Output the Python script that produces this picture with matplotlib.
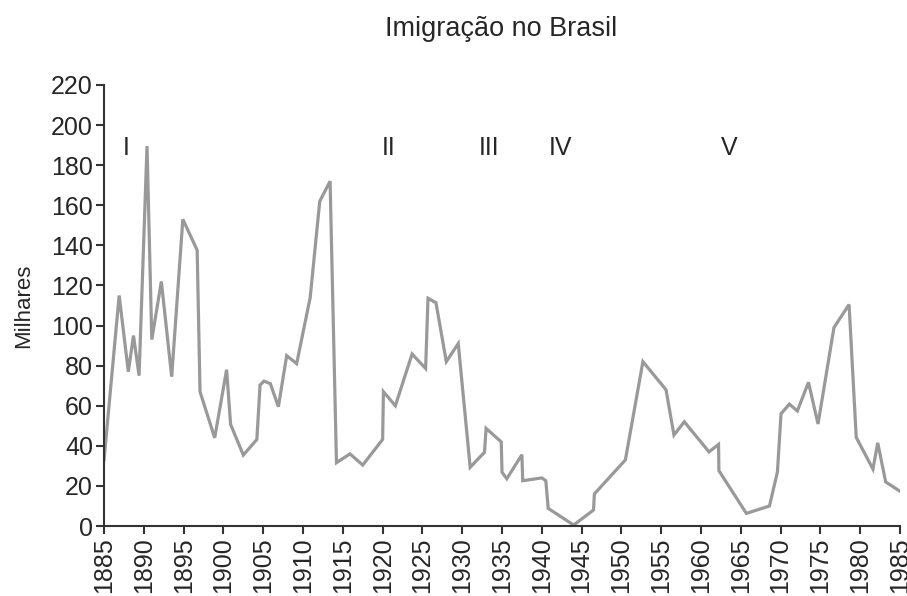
"""
Imigração no Brasil — série de 1885 a 1985 (milhares)
"""

import matplotlib
matplotlib.use('Agg')
import matplotlib.pyplot as plt

# ─────────────────────────────────────────────
# Dados
# ─────────────────────────────────────────────

anos = [1885.0, 1886.9, 1888.05, 1888.7, 1889.4, 1890.4, 1891.0, 1892.2, 1893.5,
        1894.9, 1896.7, 1897.06, 1898.9, 1900.4, 1900.9, 1902.5, 1904.2, 1904.6,
        1905.1, 1905.9, 1906.9, 1907.95, 1909.2, 1910.9, 1912.1, 1913.4, 1914.2,
        1915.9, 1917.5, 1920.0, 1920.1, 1921.6, 1923.7, 1925.4, 1925.7, 1926.7,
        1928.0, 1929.5, 1931.0, 1932.8, 1933.0, 1934.9, 1935.0, 1935.6, 1937.5,
        1937.6, 1940.0, 1940.5, 1940.8, 1944.0, 1946.5, 1946.6, 1950.5, 1952.7,
        1955.6, 1956.6, 1957.9, 1961.0, 1962.2, 1962.25, 1965.7, 1968.6, 1969.6,
        1970.05, 1971.1, 1972.1, 1973.5, 1974.7, 1976.7, 1978.6, 1979.5, 1981.6,
        1982.2, 1983.2, 1984.9]

milhares = [33, 115, 77, 95, 75, 189.5, 93, 122, 74.5,
            153, 137.6, 67, 44, 78, 50.7, 35.4, 43.2, 70.3,
            72.3, 71, 59.5, 85, 81, 114, 162, 172, 31.6,
            36, 30.4, 43.2, 67, 60, 85.8, 78.6, 113.6, 111.4,
            82, 91, 29.3, 36.8, 48.7, 42, 26.8, 23.6, 35.6,
            22.6, 24, 22.6, 8.8, 0.5, 8, 16, 33, 82,
            68, 45.4, 52, 37, 40.7, 27.6, 6.3, 10, 27,
            56, 60.8, 57.4, 71.7, 50.9, 99, 110.5, 44.2, 28.4,
            41.5, 22, 17.6]

periodos = ['I', 'II', 'III', 'IV', 'V']
periodos_x = [1887.8, 1920.7, 1933.4, 1942.4, 1963.5]

x_ticks = list(range(1885, 1986, 5))
y_ticks = list(range(0, 221, 20))

# ─────────────────────────────────────────────
# Figure
# ─────────────────────────────────────────────

plt.rcParams['font.family'] = ['Liberation Sans', 'DejaVu Sans']
cor_texto = '#262626'
cor_eixo = '#333333'

fig = plt.figure(figsize=(9.07, 5.96), dpi=100)
ax = fig.add_axes([0.1147, 0.1174, 0.8776, 0.74])

ax.plot(anos, milhares, color='#999999', linewidth=2.3, solid_joinstyle='miter')

for rotulo, xp in zip(periodos, periodos_x):
    ax.text(xp, 188.5, rotulo, ha='center', va='center', fontsize=18, color=cor_texto)

ax.set_xlim(1885, 1985)
ax.set_ylim(0, 220)
ax.set_xticks(x_ticks)
ax.set_xticklabels([str(a) for a in x_ticks], rotation=90)
ax.set_yticks(y_ticks)

for lado in ['top', 'right']:
    ax.spines[lado].set_visible(False)
for lado in ['left', 'bottom']:
    ax.spines[lado].set_color(cor_eixo)
    ax.spines[lado].set_linewidth(1.5)

ax.tick_params(axis='both', direction='out', length=6, width=1.5, color=cor_eixo,
               labelsize=18, labelcolor=cor_texto, pad=2)

ax.set_ylabel('Milhares', fontsize=16, color=cor_texto, labelpad=12)
fig.text(0.553, 0.952, 'Imigração no Brasil', ha='center', va='center',
         fontsize=19.5, color=cor_texto)

fig.savefig('out.png', dpi=100)
